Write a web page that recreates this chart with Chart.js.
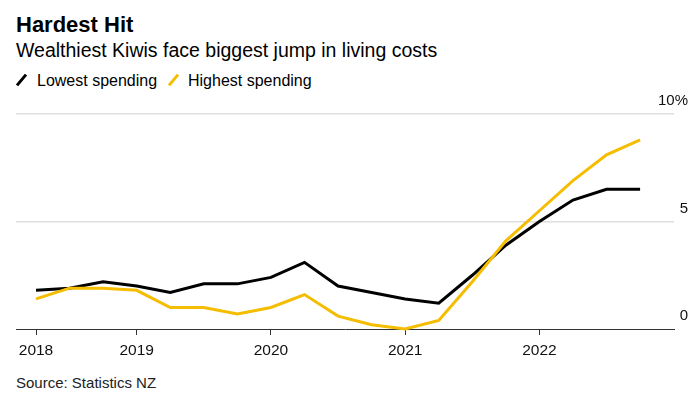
<!DOCTYPE html>
<html>
<head>
<meta charset="utf-8">
<script src="https://cdn.jsdelivr.net/npm/chart.js@4.4.0/dist/chart.umd.min.js"></script>
<style>
body { margin: 0; background: #fff; font-family: "Liberation Sans", Arial, sans-serif; color: #000; }
#wrap { position: relative; width: 700px; height: 397px; overflow: hidden; }
.t { position: absolute; left: 16px; line-height: 1; white-space: nowrap; }
.key { position: absolute; width: 3px; height: 14px; transform: rotate(40deg); }
canvas { position: absolute; left: 0; top: 0; }
</style>
</head>
<body>
<div id="wrap">
  <div class="t" style="top:14.4px;font-size:22px;font-weight:bold">Hardest Hit</div>
  <div class="t" style="top:40.8px;font-size:19.5px">Wealthiest Kiwis face biggest jump in living costs</div>
  <div class="key" style="left:20px;top:73px;background:#000"></div>
  <div class="t" style="top:72.6px;left:37px;font-size:16px">Lowest spending</div>
  <div class="key" style="left:172px;top:73px;background:#f5bd00"></div>
  <div class="t" style="top:72.6px;left:188px;font-size:16px">Highest spending</div>
  <div class="t" style="top:374.7px;font-size:15px;color:#222">Source: Statistics NZ</div>
  <canvas id="grafik" width="700" height="397"></canvas>
</div>
<script>
// quarterly CPI change by household spending group, %
const quarters = ['Mar 2018', 'Jun 2018', 'Sep 2018', 'Dec 2018', 'Mar 2019', 'Jun 2019', 'Sep 2019', 'Dec 2019',
    'Mar 2020', 'Jun 2020', 'Sep 2020', 'Dec 2020', 'Mar 2021', 'Jun 2021', 'Sep 2021', 'Dec 2021',
    'Mar 2022', 'Jun 2022', 'Sep 2022']
const lowest = [1.8, 1.9, 2.2, 2.0, 1.7, 2.1, 2.1, 2.4, 3.1, 2.0, 1.7, 1.4, 1.2, 2.5, 3.9, 5.0, 6.0, 6.5, 6.5]
const highest = [1.4, 1.9, 1.9, 1.8, 1.0, 1.0, 0.7, 1.0, 1.6, 0.6, 0.2, 0.0, 0.4, 2.2, 4.1, 5.5, 6.9, 8.1, 8.8]
const yearLabels = ['2018', '2019', '2020', '2021', '2022']
const yearAt = [0, 3, 7, 11, 15]   // index into quarters where each year label sits
const yTicks = [0, 5, 10]

const points = arr => quarters.map((q, i) => ({ x: i, y: arr[i] }))

const ctx = document.getElementById('grafik')
const myChart = new Chart(ctx, {
    type: 'line',
    data: {
        datasets: [{
            label: 'Lowest spending',
            data: points(lowest),
            borderColor: '#000',
            borderWidth: 3,
            pointRadius: 0,
            clip: false,
            order: 1
        }, {
            label: 'Highest spending',
            data: points(highest),
            borderColor: '#f5bd00',
            borderWidth: 3,
            pointRadius: 0,
            clip: false,
            order: 0
        }]
    },
    options: {
        responsive: false,
        animation: false,
        layout: { padding: { top: 114, left: 16, right: 12, bottom: 0 } },
        plugins: { legend: { display: false }, tooltip: { enabled: false } },
        scales: {
            x: {
                type: 'linear',
                min: -0.596,
                max: 19.01,
                afterBuildTicks: s => { s.ticks = yearAt.map(v => ({ value: v })) },
                afterFit: s => { s.height = 68 },
                ticks: {
                    autoSkip: false,
                    maxRotation: 0,
                    padding: 6,
                    color: '#111',
                    font: { family: 'Liberation Sans', size: 15.5 },
                    callback: v => yearLabels[yearAt.indexOf(v)]
                },
                grid: { drawOnChartArea: false, drawTicks: true, tickLength: 6, tickColor: '#333', tickWidth: 1 },
                border: { color: '#333', width: 1 }
            },
            y: {
                position: 'right',
                min: 0,
                max: 10,
                afterBuildTicks: s => { s.ticks = yTicks.map(v => ({ value: v })) },
                afterFit: s => { s.width = 14 },
                ticks: {
                    mirror: true,
                    crossAlign: 'near',
                    padding: 14,
                    labelOffset: -13,
                    color: '#111',
                    font: { family: 'Liberation Sans', size: 15 },
                    callback: v => v == 10 ? '10%' : String(v)
                },
                grid: {
                    drawTicks: false,
                    lineWidth: 1.5,
                    color: c => c.tick && c.tick.value == 0 ? 'rgba(0,0,0,0)' : '#dedede'
                },
                border: { display: false }
            }
        }
    }
})
</script>
</body>
</html>
